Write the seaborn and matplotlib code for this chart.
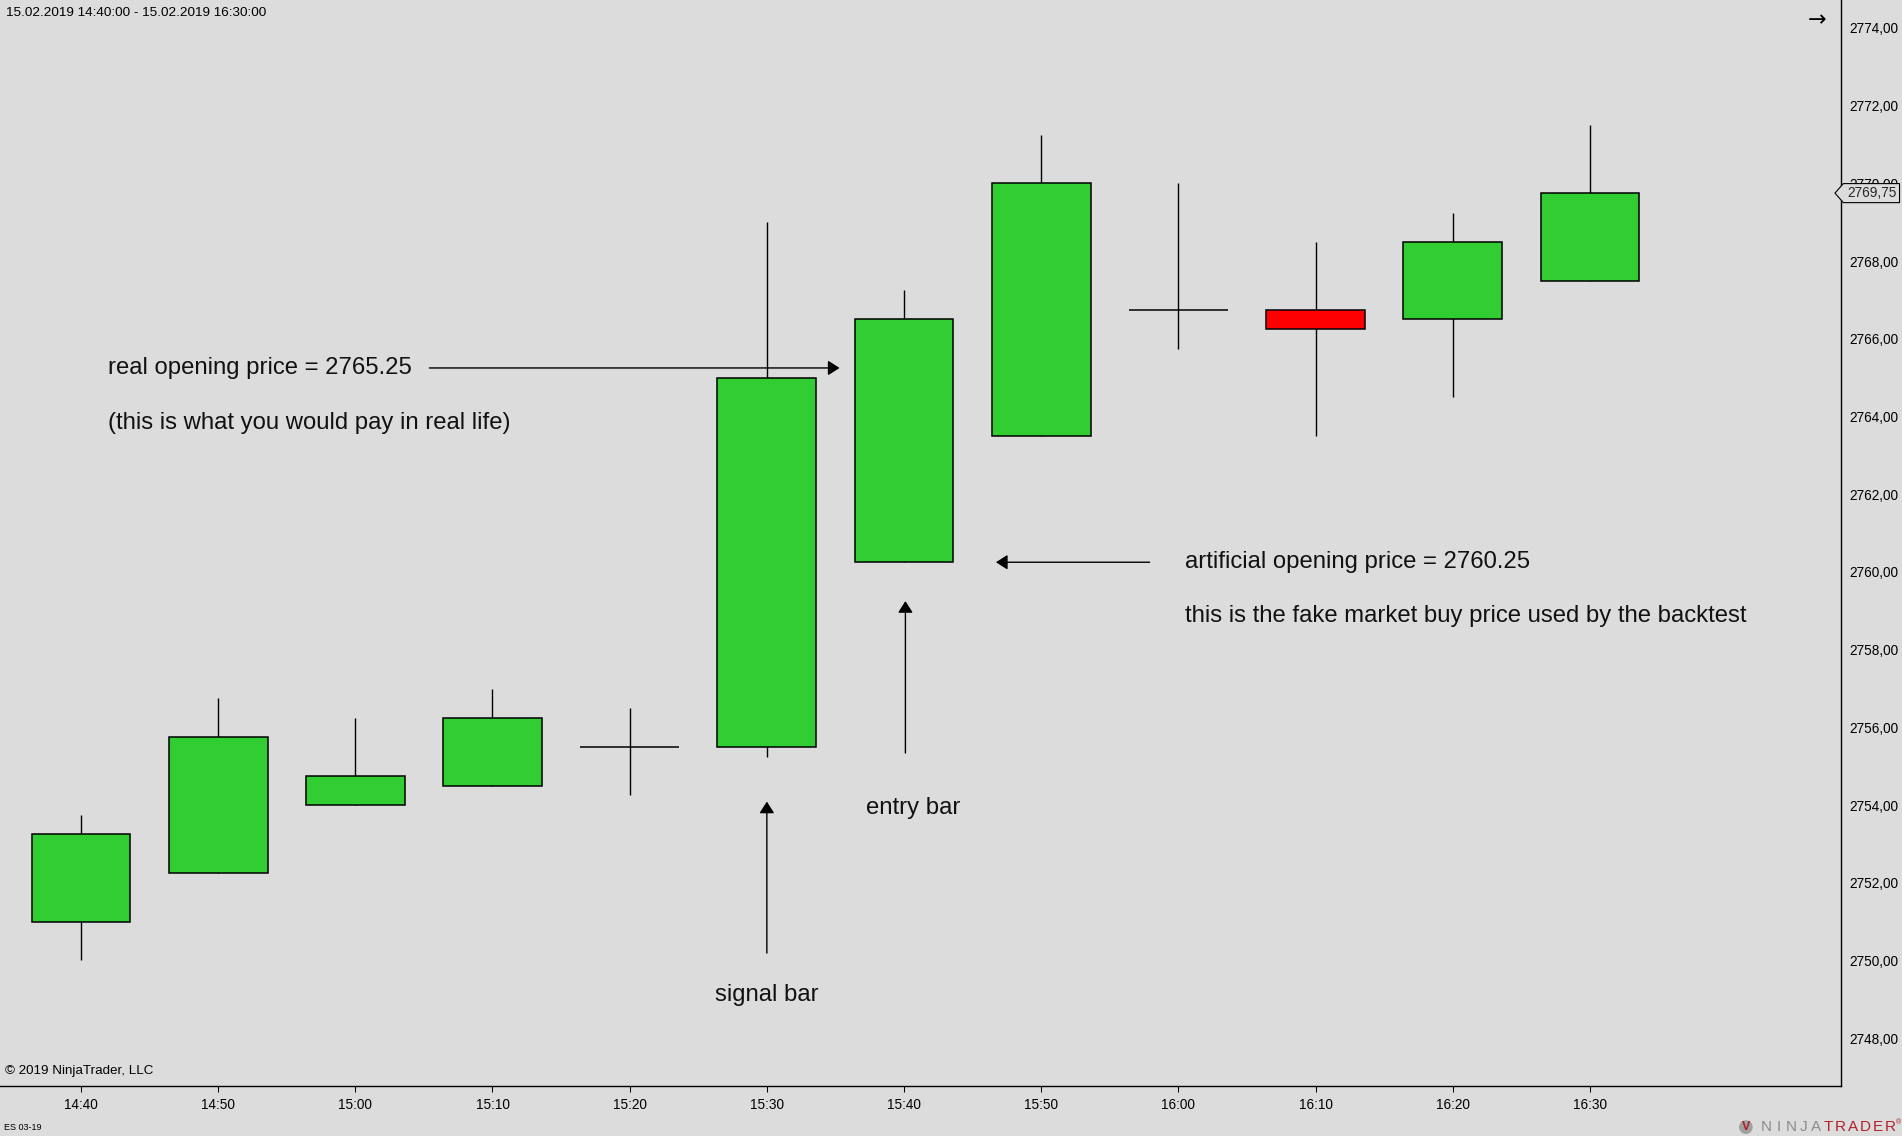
import matplotlib
matplotlib.use("Agg")
import matplotlib.pyplot as plt
import matplotlib.transforms as mtransforms
from matplotlib.patches import Polygon
import pandas as pd
import seaborn as sns

# bar data (5 minute bars, ES 03-19)
times = ["14:40", "14:50", "15:00", "15:10", "15:20", "15:30",
         "15:40", "15:50", "16:00", "16:10", "16:20", "16:30"]
opens = [2751.00, 2752.25, 2754.00, 2754.50, 2755.50, 2755.50,
         2760.25, 2763.50, 2766.75, 2766.75, 2766.50, 2767.50]
highs = [2753.75, 2756.75, 2756.25, 2757.00, 2756.50, 2769.00,
         2767.25, 2771.25, 2770.00, 2768.50, 2769.25, 2771.50]
lows = [2750.00, 2752.25, 2754.00, 2754.50, 2754.25, 2755.25,
        2760.25, 2763.50, 2765.75, 2763.50, 2764.50, 2767.50]
closes = [2753.25, 2755.75, 2754.75, 2756.25, 2755.50, 2765.00,
          2766.50, 2770.00, 2766.75, 2766.25, 2768.50, 2769.75]

price_ticks = list(range(2748, 2775, 2))
real_open = 2765.25
artificial_open = 2760.25

bg = "#dcdcdc"
up_color = "#32cd32"
down_color = "#ff0000"

sns.set_theme(style="ticks", rc={"axes.facecolor": bg, "figure.facecolor": bg})
plt.rcParams["font.family"] = ["Liberation Sans", "DejaVu Sans"]

df = pd.DataFrame({"time": times, "open": opens, "high": highs,
                   "low": lows, "close": closes})
df["body"] = (df["close"] - df["open"]).abs()
df["base"] = df[["open", "close"]].min(axis=1)

fig = plt.figure(figsize=(19.02, 11.36), dpi=100)
ax = fig.add_axes([0, 50 / 1136, 1841 / 1902, 1086 / 1136])

# wicks first, bodies on top
ax.vlines(range(len(df)), df["low"], df["high"], color="black", lw=1.0, zorder=2)
sns.barplot(data=df, x="time", y="body", order=times, bottom=df["base"].values,
            width=0.72, errorbar=None, color=up_color, saturation=1,
            edgecolor="black", linewidth=1.1, zorder=3, ax=ax)
for patch, o, c in zip(ax.patches, df["open"], df["close"]):
    if c > o:
        patch.set_facecolor(up_color)
    elif c < o:
        patch.set_facecolor(down_color)
    else:
        patch.set_facecolor("none")

ax.set_xlim(-0.59, 12.83)
ax.set_ylim(2746.77, 2774.72)
ax.set_xlabel("")
ax.set_ylabel("")

ax.yaxis.tick_right()
ax.set_yticks(price_ticks)
ax.set_yticklabels([f"{p:.2f}".replace(".", ",") for p in price_ticks])
ax.tick_params(axis="both", direction="out", length=4.3, width=0.75,
               labelsize=9.8, pad=2, colors="black")
ax.tick_params(axis="x", pad=4)
sns.despine(ax=ax, left=True, top=True, right=False, bottom=False)
for side in ["right", "bottom"]:
    ax.spines[side].set_color("black")
    ax.spines[side].set_linewidth(1.0)

# annotations
arrow_kw = dict(arrowstyle="-|>,head_length=0.5,head_width=0.32", color="black",
                lw=1.0, shrinkA=0, shrinkB=0, mutation_scale=14)
ax.annotate("", xy=(5.53, real_open), xytext=(2.54, real_open), arrowprops=arrow_kw)
ax.annotate("", xy=(6.67, artificial_open), xytext=(7.79, artificial_open),
            arrowprops=arrow_kw)
ax.annotate("", xy=(5.0, 2754.09), xytext=(5.0, 2750.19), arrowprops=arrow_kw)
ax.annotate("", xy=(6.01, 2759.25), xytext=(6.01, 2755.34), arrowprops=arrow_kw)

txt_kw = dict(fontsize=17.2, color="#111111", va="center")
ax.text(0.195, real_open, "real opening price = 2765.25", **txt_kw)
ax.text(0.195, 2763.83, "(this is what you would pay in real life)", **txt_kw)
ax.text(8.05, artificial_open, "artificial opening price = 2760.25", **txt_kw)
ax.text(8.05, 2758.86, "this is the fake market buy price used by the backtest", **txt_kw)
ax.text(6.07, 2753.93, "entry bar", ha="center", **txt_kw)
ax.text(5.0, 2749.12, "signal bar", ha="center", **txt_kw)

# last price marker on the price scale
last = closes[-1]
trans = mtransforms.blended_transform_factory(ax.transAxes, ax.transData)
marker = Polygon([(0.9967, last), (1.0013, last + 0.245), (1.0318, last + 0.245),
                  (1.0318, last - 0.245), (1.0013, last - 0.245)],
                 closed=True, transform=trans, facecolor=bg, edgecolor="black",
                 lw=0.8, clip_on=False, zorder=10)
ax.add_patch(marker)
ax.text(1.0033, last, f"{last:.2f}".replace(".", ","), transform=trans,
        fontsize=9.8, va="center", ha="left", zorder=11, clip_on=False)

# header / footer texts
fig.text(6 / 1902, 1 - 13 / 1136, "15.02.2019 14:40:00 - 15.02.2019 16:30:00",
         fontsize=9.7, va="center", color="black")
fig.text(5 / 1902, 1 - 1071 / 1136, "© 2019 NinjaTrader, LLC",
         fontsize=9.6, va="center", color="black")
fig.text(4 / 1902, 1 - 1127 / 1136, "ES 03-19", fontsize=6.5, va="center",
         color="black")
fig.text(1817 / 1902, 1 - 20 / 1136, "→", fontsize=16, ha="center", va="center",
         family=["DejaVu Sans"], color="black")

# logo
fig.text(1746 / 1902, 1 - 1127 / 1136, "●", fontsize=13, ha="center", va="center",
         color="#a0a0a0", family=["DejaVu Sans"])
fig.text(1746 / 1902, 1 - 1127 / 1136, "V", fontsize=9, ha="center", va="center",
         color="#b0202a", fontweight="bold")
for i, ch in enumerate("NINJATRADER"):
    fig.text((1766 + i * 12.4) / 1902, 1 - 1127 / 1136, ch, fontsize=11,
             ha="center", va="center", color="#8c8c8c" if i < 5 else "#b0202a")
fig.text(1899 / 1902, 1 - 1123 / 1136, "®", fontsize=5, ha="center", va="center",
         color="#b0202a")

fig.savefig("out.png", dpi=100, facecolor=bg)
plt.close(fig)
